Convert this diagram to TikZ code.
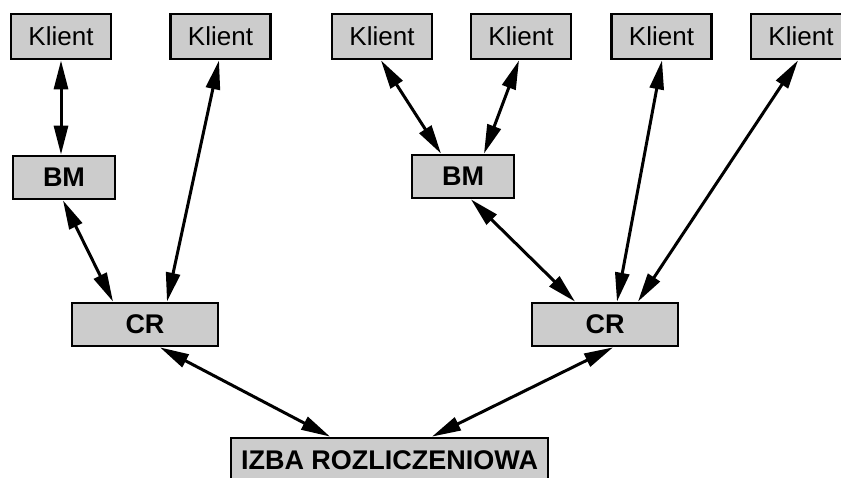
\documentclass[tikz,border=0pt]{standalone}
\usepackage{fontspec}
\setmainfont{Liberation Sans}
\usetikzlibrary{arrows.meta}
\begin{document}
\begin{tikzpicture}[x=1pt,y=-1pt,
  box/.style={draw=black,line width=2.8pt,fill=boxgray,inner sep=0pt,
    minimum height=45pt,font=\fontsize{26}{28}\selectfont},
  klient/.style={box,minimum width=100pt},
  bold/.style={box,font=\fontsize{27}{29}\selectfont\bfseries,minimum height=43pt},
  arr/.style={line width=3pt,{Triangle[length=29pt,width=14pt]}-{Triangle[length=29pt,width=14pt]}}]
\definecolor{boxgray}{HTML}{CCCCCC}
\useasboundingbox (0,0) rectangle (841,478);
\clip (0,0) rectangle (841,478);
\node[klient] (k1) at (61,36.5) {Klient};
\node[klient] (k2) at (220.5,36.5) {Klient};
\node[klient] (k3) at (382,36.5) {Klient};
\node[klient] (k4) at (521,36.5) {Klient};
\node[klient] (k5) at (661.5,36.5) {Klient};
\node[klient] (k6) at (801,36.5) {Klient};
\node[bold,minimum width=102pt] (bm1) at (64,177.5) {BM};
\node[bold,minimum width=102pt] (bm2) at (463,176.5) {BM};
\node[bold,minimum width=146pt] (cr1) at (145,324.5) {CR};
\node[bold,minimum width=146pt] (cr2) at (605,324.5) {CR};
\node[bold,minimum width=317pt,minimum height=45pt] (izba) at (389.5,460.5) {IZBA ROZLICZENIOWA};
\draw[arr] (k1.south) -- ([xshift=-3pt]bm1.north);
\draw[arr] ([xshift=-1.5pt]k2.south) -- ([xshift=22pt]cr1.north);
\draw[arr] ([xshift=-1pt]bm1.south) -- ([xshift=-32pt]cr1.north);
\draw[arr] ([xshift=15pt]cr1.south) -- ([xshift=-59.5pt]izba.north);
\draw[arr] ([xshift=8pt]cr2.south) -- ([xshift=42.5pt]izba.north);
\draw[arr] ([xshift=-1pt]k3.south) -- ([xshift=-22pt]bm2.north);
\draw[arr] ([xshift=-2pt]k4.south) -- ([xshift=21pt]bm2.north);
\draw[arr] ([xshift=8pt]bm2.south) -- ([xshift=-30pt]cr2.north);
\draw[arr] ([xshift=0.5pt]k5.south) -- ([xshift=12pt]cr2.north);
\draw[arr] ([xshift=-3pt]k6.south) -- ([xshift=33pt]cr2.north);
\end{tikzpicture}
\end{document}
